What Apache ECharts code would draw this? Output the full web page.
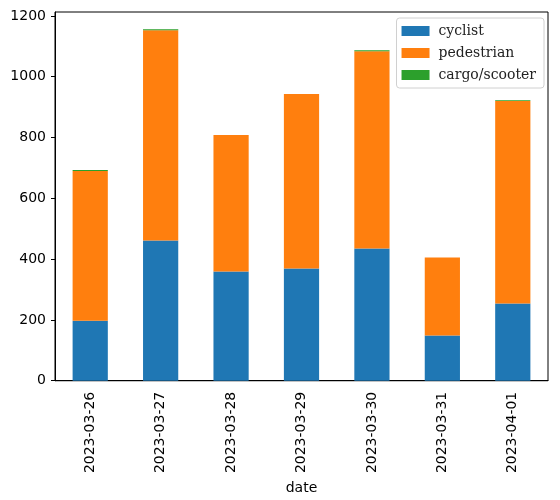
<!DOCTYPE html>
<html>
<head>
<meta charset="utf-8">
<script src="https://cdn.jsdelivr.net/npm/echarts@6/dist/echarts.min.js"></script>
<style>
  html, body { margin: 0; padding: 0; background: #fff; }
  #chart { width: 560px; height: 500px; }
</style>
</head>
<body>
<div id="chart"></div>
<script>
// data
const dates = ['2023-03-26', '2023-03-27', '2023-03-28', '2023-03-29', '2023-03-30', '2023-03-31', '2023-04-01'];
const cyclist = [197, 461, 359, 369, 435, 149, 254];
const pedestrian = [493, 692, 449, 574, 649, 256, 666];
const cargo = [3, 3, 0, 0, 3, 0, 3];
const yTicks = [0, 200, 400, 600, 800, 1000, 1200];

const tickFont = { fontFamily: 'DejaVu Sans', fontSize: 14, color: '#000' };

const mkBar = (name, data, color) => ({
  name,
  type: 'bar',
  stack: 'total',
  data,
  barWidth: '50%',
  itemStyle: { color },
  emphasis: { disabled: true }
});

const chart = echarts.init(document.getElementById('chart'), null, { renderer: 'canvas' });
chart.setOption({
  animation: false,
  grid: { left: 55, right: 12, top: 12, bottom: 119, show: true, borderColor: '#000', borderWidth: 1, containLabel: false },
  legend: {
    orient: 'vertical',
    top: 18,
    right: 16,
    icon: 'rect',
    itemWidth: 28,
    itemHeight: 10,
    itemGap: 8,
    padding: [6, 8, 6, 5],
    borderColor: '#d0d0d0',
    borderWidth: 1,
    borderRadius: 3,
    backgroundColor: '#fff',
    textStyle: { fontFamily: 'DejaVu Serif', fontSize: 14, color: '#222', padding: [0, 0, 0, 4] },
    data: ['cyclist', 'pedestrian', 'cargo/scooter']
  },
  xAxis: {
    type: 'category',
    data: dates,
    name: 'date',
    nameLocation: 'middle',
    nameGap: 92,
    nameTextStyle: { fontFamily: 'DejaVu Sans', fontSize: 14, color: '#000' },
    axisLine: { lineStyle: { color: '#000', width: 1 } },
    axisTick: { alignWithLabel: true, length: 4, lineStyle: { color: '#000' } },
    axisLabel: { ...tickFont, rotate: 90, margin: 11 },
    splitLine: { show: false }
  },
  yAxis: {
    type: 'value',
    min: 0,
    max: 1213,
    axisLine: { show: true, lineStyle: { color: '#000', width: 1 } },
    axisTick: { show: true, length: 4, lineStyle: { color: '#000' }, customValues: yTicks },
    axisLabel: { ...tickFont, margin: 9, customValues: yTicks, formatter: (v) => String(v) },
    splitLine: { show: false }
  },
  series: [
    mkBar('cyclist', cyclist, '#1f77b4'),
    mkBar('pedestrian', pedestrian, '#ff7f0e'),
    mkBar('cargo/scooter', cargo, '#2ca02c')
  ]
});
</script>
</body>
</html>
